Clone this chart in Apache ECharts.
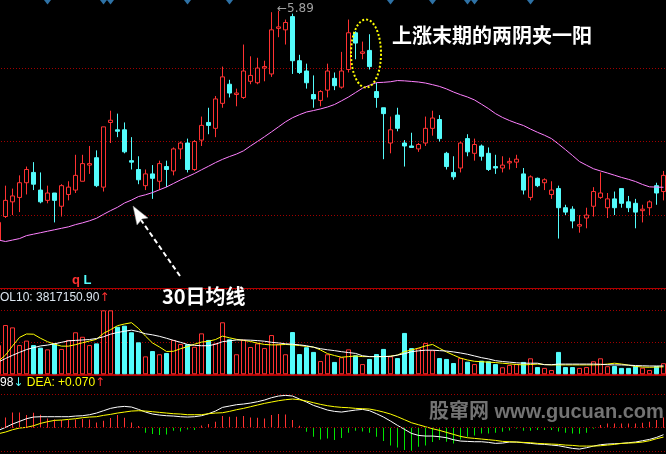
<!DOCTYPE html>
<html><head><meta charset="utf-8">
<script src="https://cdn.jsdelivr.net/npm/echarts@6/dist/echarts.min.js"></script>
<style>html,body{margin:0;padding:0;background:#000;overflow:hidden}#c{width:666px;height:454px}</style>
</head><body><div id="c"></div>
<script>
const days = ['1','2','3','4','5','6','7','8','9','10','11','12','13','14','15','16','17','18','19','20','21','22','23','24','25','26','27','28','29','30','31','32','33','34','35','36','37','38','39','40','41','42','43','44','45','46','47','48','49','50','51','52','53','54','55','56','57','58','59','60','61','62','63','64','65','66','67','68','69','70','71','72','73','74','75','76','77','78','79','80','81','82','83','84','85','86','87','88','89','90','91','92','93','94','95','96'];

const open = [4.33,4.49,4.59,4.62,4.72,4.79,4.67,4.60,4.65,4.56,
  4.64,4.67,4.73,4.84,4.89,4.69,5.13,5.08,5.08,4.87,
  4.81,4.70,4.78,4.73,4.83,4.80,4.95,4.99,4.81,5.01,
  5.13,5.09,5.26,5.39,5.32,5.30,5.41,5.40,5.50,5.46,
  5.77,5.76,5.85,5.55,5.48,5.32,5.28,5.35,5.43,5.37,
  5.49,5.74,5.60,5.62,5.34,5.23,4.99,5.18,4.99,4.97,
  4.95,4.99,5.09,5.15,4.92,4.79,4.82,5.02,4.92,4.97,
  4.92,4.83,4.82,4.855,4.86,4.78,4.62,4.75,4.72,4.64,
  4.68,4.55,4.54,4.425,4.48,4.56,4.62,4.55,4.61,4.68,
  4.59,4.58,4.53,4.55,4.70,4.66];
const close = [4.45,4.60,4.63,4.72,4.81,4.71,4.59,4.65,4.60,4.70,
  4.69,4.77,4.85,4.85,4.70,5.10,5.145,5.07,4.93,4.86,
  4.74,4.78,4.75,4.85,4.81,4.95,4.99,4.81,5.00,5.11,
  5.11,5.29,5.44,5.33,5.33,5.48,5.45,5.50,5.51,5.76,
  5.78,5.81,5.55,5.47,5.40,5.29,5.34,5.48,5.38,5.48,
  5.74,5.67,5.61,5.51,5.30,5.19,5.08,5.09,4.97,4.96,
  4.98,5.09,5.16,5.02,4.83,4.76,4.99,4.93,4.98,4.90,
  4.81,4.82,4.84,4.865,4.88,4.67,4.76,4.70,4.74,4.67,
  4.55,4.52,4.46,4.435,4.50,4.66,4.65,4.61,4.55,4.58,
  4.55,4.52,4.54,4.59,4.65,4.77];
const low = [4.32,4.48,4.50,4.52,4.64,4.67,4.58,4.58,4.45,4.49,
  4.60,4.65,4.73,4.78,4.69,4.66,4.99,5.03,4.92,4.81,
  4.71,4.67,4.61,4.67,4.69,4.77,4.88,4.79,4.80,4.97,
  5.05,5.03,5.23,5.30,5.24,5.29,5.39,5.39,5.41,5.44,
  5.71,5.66,5.46,5.46,5.36,5.23,5.24,5.30,5.35,5.36,
  5.47,5.56,5.56,5.49,5.23,4.88,4.92,5.07,4.83,4.96,
  4.93,4.97,5.04,5.00,4.81,4.74,4.79,4.90,4.87,4.87,
  4.80,4.78,4.79,4.81,4.82,4.64,4.60,4.69,4.67,4.61,
  4.34,4.50,4.41,4.38,4.41,4.49,4.61,4.48,4.50,4.55,
  4.52,4.41,4.45,4.50,4.57,4.60];
const high = [4.48,4.70,4.68,4.77,4.83,4.86,4.79,4.70,4.65,4.71,
  4.73,4.91,4.91,4.97,4.94,5.10,5.21,5.19,5.13,5.03,
  4.90,4.81,4.84,4.87,4.87,4.96,5.00,5.02,5.01,5.17,
  5.23,5.31,5.51,5.42,5.36,5.66,5.58,5.57,5.55,5.88,
  5.89,5.83,5.87,5.59,5.53,5.45,5.35,5.53,5.47,5.61,
  5.83,5.75,5.68,5.73,5.40,5.23,5.17,5.23,5.01,5.06,
  4.99,5.17,5.21,5.18,4.93,4.90,5.00,5.05,5.02,4.98,
  4.96,4.91,4.90,4.89,4.91,4.82,4.77,4.755,4.75,4.73,
  4.70,4.57,4.56,4.50,4.55,4.69,4.79,4.65,4.66,4.68,
  4.63,4.61,4.57,4.60,4.72,4.80];
const ma30 = [4.33,4.32,4.33,4.34,4.36,4.37,4.38,4.39,4.40,4.41,
  4.42,4.435,4.447,4.461,4.478,4.505,4.53,4.553,4.582,4.602,
  4.626,4.638,4.653,4.672,4.691,4.715,4.739,4.761,4.783,4.808,
  4.832,4.857,4.879,4.898,4.915,4.937,4.97,5.001,5.033,5.066,
  5.10,5.134,5.162,5.183,5.201,5.211,5.222,5.235,5.252,5.277,
  5.303,5.333,5.363,5.383,5.401,5.403,5.407,5.415,5.413,5.409,
  5.405,5.398,5.387,5.375,5.358,5.337,5.319,5.303,5.283,5.254,
  5.224,5.19,5.164,5.143,5.125,5.109,5.085,5.063,5.043,5.02,
  4.983,4.945,4.905,4.864,4.839,4.815,4.80,4.786,4.771,4.756,
  4.743,4.728,4.708,4.692,4.69,4.689];

const vol = [13.7,23.1,22.0,13.7,15.8,13.7,12.5,11.7,14.5,11.9,
  16.1,19.7,17.6,13.7,14.5,30.0,30.0,22.3,22.8,19.7,
  15.0,8.4,10.9,9.4,10.0,16.1,14.2,14.1,12.9,19.2,
  16.1,14.5,24.4,16.4,9.4,16.2,12.8,14.5,12.3,18.4,
  14.2,9.4,19.8,9.5,12.7,10.5,6.2,9.4,5.8,8.0,
  11.7,8.9,4.8,7.2,9.5,11.9,8.4,7.6,19.4,12.3,
  12.2,14.7,11.3,7.6,7.2,5.3,7.6,5.9,4.8,6.4,
  6.1,4.8,3.3,4.4,4.8,5.8,7.5,3.4,3.0,2.0,
  10.5,3.4,3.4,3.0,3.4,6.1,7.5,3.8,3.9,3.0,
  3.0,3.9,3.1,2.0,3.9,5.2];
const volMa5 = [6.2,9.0,13.3,17.3,18.9,18.8,16.9,15.3,14.1,13.2,
  13.2,13.9,14.8,15.6,16.4,19.2,20.9,22.8,23.6,24.2,
  21.5,17.9,14.7,12.8,10.7,10.8,12.0,13.0,14.1,15.1,
  15.5,16.3,17.9,17.1,16.4,15.9,15.4,14.6,14.0,13.8,
  13.8,14.0,13.8,13.5,13.1,12.8,11.4,9.7,8.8,8.0,
  8.3,8.6,8.3,8.3,8.3,8.3,8.5,9.0,10.6,11.4,
  12.3,13.3,14.0,12.2,10.5,9.0,7.6,6.7,6.1,5.9,
  5.7,5.5,5.2,4.9,4.6,4.4,4.6,4.8,4.6,4.4,
  4.4,4.4,4.4,4.4,4.4,4.4,4.5,4.8,5.2,4.8,
  4.3,3.7,3.4,3.3,3.4,3.5];
const volMa10 = [5.8,7.4,8.9,10.3,11.6,12.5,13.3,13.7,14.3,15.0,
  15.7,15.9,16.1,16.3,16.8,17.6,18.8,19.6,20.2,20.7,
  20.0,19.0,18.5,17.8,16.9,15.9,15.0,14.0,13.6,13.4,
  13.4,14.1,15.3,15.7,16.1,16.1,16.0,15.8,15.5,15.0,
  14.7,14.3,14.1,13.8,13.4,12.7,12.0,11.5,11.1,10.6,
  10.2,9.8,8.7,8.3,8.3,8.3,8.4,9.0,9.7,10.6,
  11.0,11.3,11.3,11.1,10.9,10.5,10.0,9.4,8.6,7.8,
  7.2,6.4,6.0,5.7,5.4,5.2,5.2,5.2,4.5,4.5,
  4.8,4.8,4.8,4.8,4.8,4.8,4.7,4.5,4.4,4.4,
  4.3,4.1,4.0,3.9,3.9,3.9];

const dif = [-0.008,0.001,0.011,0.019,0.027,0.032,0.033,0.033,0.033,0.033,
  0.033,0.035,0.036,0.039,0.044,0.051,0.058,0.062,0.064,0.062,
  0.055,0.047,0.041,0.038,0.036,0.035,0.033,0.032,0.033,0.036,
  0.042,0.050,0.061,0.065,0.069,0.071,0.074,0.078,0.083,0.090,
  0.095,0.097,0.095,0.086,0.077,0.067,0.060,0.053,0.049,0.047,
  0.050,0.053,0.055,0.051,0.042,0.032,0.020,0.007,-0.005,-0.017,
  -0.023,-0.025,-0.025,-0.027,-0.030,-0.036,-0.040,-0.041,-0.042,-0.042,
  -0.044,-0.047,-0.046,-0.043,-0.043,-0.045,-0.047,-0.049,-0.050,-0.052,
  -0.054,-0.058,-0.062,-0.064,-0.060,-0.055,-0.051,-0.049,-0.048,-0.047,
  -0.045,-0.043,-0.039,-0.035,-0.029,-0.021];
const dea = [-0.018,-0.013,-0.006,-0.001,0.001,0.006,0.013,0.018,0.022,0.023,
  0.025,0.027,0.030,0.032,0.033,0.037,0.040,0.044,0.047,0.050,
  0.051,0.050,0.048,0.046,0.044,0.042,0.041,0.039,0.039,0.039,
  0.042,0.044,0.045,0.049,0.054,0.058,0.063,0.068,0.073,0.077,
  0.081,0.084,0.086,0.084,0.080,0.075,0.070,0.066,0.063,0.061,
  0.060,0.058,0.057,0.056,0.052,0.047,0.041,0.033,0.024,0.015,
  0.009,0.003,-0.003,-0.008,-0.014,-0.020,-0.026,-0.030,-0.032,-0.034,
  -0.036,-0.038,-0.041,-0.042,-0.043,-0.044,-0.045,-0.047,-0.048,-0.049,
  -0.050,-0.052,-0.053,-0.055,-0.055,-0.055,-0.054,-0.052,-0.050,-0.047,
  -0.046,-0.045,-0.043,-0.039,-0.033,-0.028];
const macdHist = [0.030,0.031,0.046,0.046,0.038,0.045,0.039,0.028,0.025,0.023,
  0.023,0.025,0.026,0.025,0.016,0.021,0.029,0.038,0.030,0.016,
  0.005,-0.015,-0.019,-0.022,-0.020,-0.009,-0.011,-0.005,-0.007,0.007,
  0.011,0.018,0.035,0.033,0.033,0.035,0.031,0.030,0.028,0.038,
  0.041,0.040,0.023,0.006,-0.012,-0.027,-0.035,-0.032,-0.037,-0.031,
  -0.015,-0.009,-0.011,-0.015,-0.027,-0.040,-0.053,-0.059,-0.067,-0.069,
  -0.057,-0.053,-0.043,-0.037,-0.042,-0.047,-0.035,-0.027,-0.023,-0.017,
  -0.017,-0.015,-0.012,-0.008,-0.003,-0.009,-0.009,-0.007,-0.007,-0.007,
  -0.011,-0.015,-0.017,-0.018,-0.015,-0.003,0.008,0.013,0.013,0.013,
  0.013,0.013,0.015,0.018,0.023,0.031];

const signalIdx = [7,15,16,27,33,56,62,67,68,76];
const priceTicks = [4.5,5.0,5.5];

const RED = '#ff3232', CYAN = '#54fcfc', GREEN = '#00e600', GRID_RED = '#a00000', SEP = '#b00000';

const chart = echarts.init(document.getElementById('c'), null, {renderer: 'canvas'});
const isUp = open.map((o, i) => close[i] >= o);
const kData = open.map((o, i) => [o, close[i], low[i], high[i]]);
const volData = vol.map((v, i) => ({
  value: v,
  itemStyle: isUp[i] ? {color: '#000', borderColor: RED, borderWidth: 1}
                     : {color: CYAN, borderColor: CYAN, borderWidth: 1}
}));
const histData = macdHist.map(h => ({value: h, itemStyle: {color: h >= 0 ? RED : GREEN}}));
const topVal = 5.963;
const sigData = signalIdx.map(i => [i, topVal]);

const hiddenAxis = {axisLabel: {show: false}, axisTick: {show: false}};
const dotted = {color: GRID_RED, type: [1, 2], width: 1};

const option = {
  backgroundColor: '#000',
  animation: false,
  grid: [
    {left: -5, width: 672, top: -5.44, height: 294, outerBoundsMode: 'none'},
    {left: -5, width: 672, top: 289, height: 85.3, outerBoundsMode: 'none'},
    {left: -5, width: 672, top: 377.7, height: 76.7, outerBoundsMode: 'none'}
  ],
  xAxis: [0, 1, 2].map(g => Object.assign({
    type: 'category', gridIndex: g, data: days, boundaryGap: true,
    splitLine: {show: false},
    axisLine: {show: g < 2, onZero: false, lineStyle: {color: SEP, width: g === 1 ? 2 : 1}}
  }, hiddenAxis)),
  yAxis: [
    Object.assign({gridIndex: 0, type: 'value', min: 4.0, max: 6.0, interval: 0.5,
      axisLine: {show: false}, splitLine: {show: true, lineStyle: dotted}}, hiddenAxis),
    Object.assign({gridIndex: 1, type: 'value', min: 0, max: 40, interval: 15,
      axisLine: {show: false}, splitLine: {show: true, lineStyle: dotted}}, hiddenAxis),
    Object.assign({gridIndex: 2, type: 'value', min: -0.08, max: 0.15,
      axisLine: {show: false}, splitLine: {show: false}}, hiddenAxis)
  ],
  series: [
    {
      type: 'candlestick', xAxisIndex: 0, yAxisIndex: 0, data: kData, barWidth: 5,
      itemStyle: {color: '#000', color0: CYAN, borderColor: RED, borderColor0: CYAN, borderWidth: 1},
      silent: true
    },
    {
      type: 'line', xAxisIndex: 0, yAxisIndex: 0, data: ma30, symbol: 'none',
      lineStyle: {color: '#ff80ff', width: 1}, silent: true, z: 3
    },
    {
      type: 'scatter', xAxisIndex: 0, yAxisIndex: 0, data: sigData, symbol: 'diamond',
      symbolSize: [7, 9], itemStyle: {color: '#3a8ed0'}, silent: true, clip: false
    },
    {
      type: 'bar', xAxisIndex: 1, yAxisIndex: 1, data: volData, barWidth: 5, silent: true
    },
    {
      type: 'line', xAxisIndex: 1, yAxisIndex: 1, data: volMa5, symbol: 'none',
      lineStyle: {color: '#ffff00', width: 1}, silent: true, z: 3
    },
    {
      type: 'line', xAxisIndex: 1, yAxisIndex: 1, data: volMa10, symbol: 'none',
      lineStyle: {color: '#ffffff', width: 1}, silent: true, z: 3
    },
    {
      type: 'bar', xAxisIndex: 2, yAxisIndex: 2, data: histData, barWidth: 1, silent: true,
      markLine: {
        silent: true, symbol: 'none', label: {show: false},
        lineStyle: dotted,
        data: [{yAxis: 0.1}, {yAxis: 0}, {yAxis: -0.075}]
      }
    },
    {
      type: 'line', xAxisIndex: 2, yAxisIndex: 2, data: dif, symbol: 'none',
      lineStyle: {color: '#ffffff', width: 1}, silent: true, z: 3
    },
    {
      type: 'line', xAxisIndex: 2, yAxisIndex: 2, data: dea, symbol: 'none',
      lineStyle: {color: '#ffff00', width: 1}, silent: true, z: 3
    }
  ],
  graphic: [
    {type: 'text', left: 392, top: 25, z: 50, style: {
      text: '上涨末期的两阴夹一阳', fill: '#ffffff',
      font: 'bold 20px "Noto Sans CJK SC"', textShadowColor: '#666', textShadowOffsetX: 1, textShadowOffsetY: 1}},
    {type: 'text', left: 162, top: 286, z: 50, style: {
      text: '30日均线', fill: '#ffffff',
      font: 'bold 20px "Noto Sans CJK SC"', textShadowColor: '#666', textShadowOffsetX: 1, textShadowOffsetY: 1}},
    {type: 'text', left: 277, top: 3, z: 50, style: {
      text: '←5.89', fill: '#a0a0a0', font: '12px "DejaVu Sans"'}},
    {type: 'text', left: 72, top: 274, z: 50, style: {
      text: '{q|q} {l|L}', font: 'bold 13px "Liberation Sans"',
      rich: {q: {fill: RED, font: 'bold 13px "Liberation Sans"'}, l: {fill: CYAN, font: 'bold 13px "Liberation Sans"'}}}},
    {type: 'text', left: 0, top: 292, z: 50, style: {
      text: '{a|OL10: 3817150.90}{b|↑}',
      rich: {a: {fill: '#dce6f0', font: '12px "Liberation Sans"'}, b: {fill: RED, font: '12px "DejaVu Sans"'}}}},
    {type: 'text', left: 0, top: 377, z: 50, style: {
      text: '{a|98}{b|↓} {c|DEA: +0.070}{d|↑}',
      rich: {a: {fill: '#ffffff', font: '12px "Liberation Sans"'}, b: {fill: CYAN, font: '12px "DejaVu Sans"'},
             c: {fill: '#ffff00', font: '12px "Liberation Sans"'}, d: {fill: RED, font: '12px "DejaVu Sans"'}}}},
    {type: 'ellipse', z: 50, shape: {cx: 366, cy: 53.5, rx: 15, ry: 34},
      style: {fill: 'none', stroke: '#ffff00', lineWidth: 2, lineDash: [2, 2]}},
    {type: 'line', z: 50, shape: {x1: 180, y1: 276, x2: 141, y2: 220},
      style: {stroke: '#ffffff', lineWidth: 2, lineDash: [5, 3]}},
    {type: 'polygon', z: 50, shape: {points: [[133, 206], [148, 218], [142, 219], [137, 225]]},
      style: {fill: '#ffffff', stroke: '#999', lineWidth: 0.5}},
    {type: 'text', left: 429, top: 402, z: 60, style: {
      text: '股窜网 www.gucuan.com', fill: 'rgba(128,128,128,0.9)',
      font: 'bold 20px "Liberation Sans", "Noto Sans CJK SC"'}}
  ]
};
chart.setOption(option);
</script>
</body></html>
